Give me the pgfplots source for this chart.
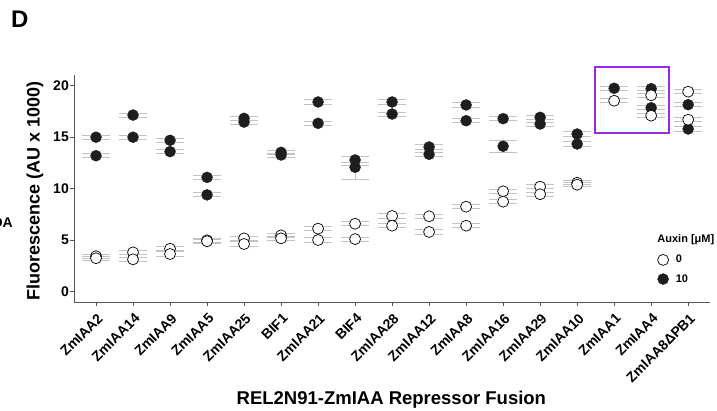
\documentclass[border=0pt]{standalone}
\usepackage{pgfplots}
\pgfplotsset{compat=1.18}
\usepackage{pgfplotstable}
\usepackage{fontspec}
\setmainfont{Liberation Sans}
\definecolor{capgray}{RGB}{195,195,195}
\definecolor{axgray}{RGB}{85,85,85}
\definecolor{boxpurple}{RGB}{155,40,240}
\definecolor{dotfill}{RGB}{30,30,30}

% Auxin 10 uM (filled)
\pgfplotstableread{
x y ep em
0 15.00 0.2 0.2
0 13.20 0.2 0.2
1 17.15 0.2 0.2
1 15.00 0.2 0.2
2 14.70 0.2 0.2
2 13.60 0.2 0.2
3 11.10 0.2 0.2
3 9.40 0.2 0.2
4 16.83 0.2 0.2
4 16.47 0.2 0.2
5 13.53 0.2 0.2
5 13.27 0.2 0.2
6 18.42 0.2 0.2
6 16.35 0.2 0.2
7 12.79 0.35 0.2
7 12.08 0.2 1.14
8 18.42 0.2 0.2
8 17.25 0.2 0.2
9 14.05 0.2 0.2
9 13.34 0.2 0.2
10 18.13 0.2 0.2
10 16.60 0.2 0.2
11 16.80 0.2 0.2
11 14.12 0.6 0.6
12 16.93 0.2 0.2
12 16.28 0.2 0.2
13 15.31 0.2 0.2
13 14.34 0.2 0.2
14 19.75 0.2 0.2
15 19.71 0.2 0.2
15 17.86 0.2 0.2
16 18.16 0.2 0.2
16 15.80 0.2 0.2
}\filled

% Auxin 0 uM (open)
\pgfplotstableread{
x y ep em
0 3.45 0.2 0.2
0 3.25 0.2 0.2
1 3.82 0.2 0.2
1 3.14 0.2 0.2
2 4.17 0.2 0.2
2 3.66 0.2 0.2
3 4.99 0.2 0.2
3 4.90 0.2 0.2
4 5.18 0.2 0.2
4 4.63 0.2 0.2
5 5.47 0.2 0.2
5 5.18 0.2 0.2
6 6.12 0.2 0.2
6 5.02 0.2 0.2
7 6.60 0.2 0.2
7 5.11 0.2 0.2
8 7.35 0.2 0.2
8 6.41 0.2 0.2
9 7.32 0.2 0.2
9 5.80 0.2 0.2
10 8.25 0.2 0.2
10 6.41 0.2 0.2
11 9.75 0.2 0.2
11 8.74 0.2 0.2
12 10.20 0.2 0.2
12 9.46 0.2 0.2
13 10.58 0.2 0.2
13 10.39 0.2 0.2
14 18.54 0.2 0.2
15 19.07 0.2 0.2
15 17.09 0.2 0.2
16 19.42 0.2 0.2
16 16.70 0.2 0.2
}\open

\begin{document}
\begin{tikzpicture}
\useasboundingbox (0pt,0pt) rectangle (717pt,411pt);
\node[anchor=base west, inner sep=0pt, font=\fontsize{24}{28}\selectfont\bfseries] at (11pt,383pt) {D};
\node[anchor=east, inner sep=0pt, font=\fontsize{14}{16}\selectfont\bfseries] at (13pt,188pt) {DA};
\begin{axis}[
  at={(74pt,109pt)}, anchor=south west,
  scale only axis, width=636pt, height=227pt,
  xmin=-0.595, xmax=16.59, ymin=-1, ymax=21.04,
  axis x line*=bottom, axis y line*=left,
  axis line style={axgray, line width=0.8pt},
  tick style={axgray, line width=0.8pt},
  tick align=outside, major tick length=4pt,
  xtick={0,...,16},
  xticklabels={ZmIAA2,ZmIAA14,ZmIAA9,ZmIAA5,ZmIAA25,BIF1,ZmIAA21,BIF4,ZmIAA28,ZmIAA12,ZmIAA8,ZmIAA16,ZmIAA29,ZmIAA10,ZmIAA1,ZmIAA4,ZmIAA8ΔPB1},
  xticklabel style={rotate=45, anchor=north east, inner sep=0pt, xshift=-4pt, yshift=-5pt, font=\fontsize{14}{16}\selectfont\bfseries},
  ytick={0,5,10,15,20},
  yticklabel style={font=\fontsize{14}{16}\selectfont\bfseries, inner sep=1pt},
  /pgf/number format/assume math mode=true,
  xlabel={REL2N91-ZmIAA Repressor Fusion},
  ylabel={Fluorescence (AU x 1000)},
  every axis x label/.style={at={(axis description cs:0.499,-0.432)}, anchor=center, font=\fontsize{18.5}{20}\selectfont\bfseries},
  every axis y label/.style={at={(axis description cs:-0.0613,0.489)}, rotate=90, anchor=center, font=\fontsize{18}{20}\selectfont\bfseries},
  clip=false,
  reverse legend,
  legend style={at={(axis description cs:0.917,0.211)}, anchor=north west, draw=none, fill=none,
    font=\fontsize{11}{13}\selectfont\bfseries, row sep=8pt, inner sep=0pt, nodes={inner sep=1pt}},
  legend cell align=left,
  legend image code/.code={\draw[#1] plot coordinates {(5.5pt,0pt)}; \path (0pt,0pt) (17pt,0pt);},
]
\addplot[only marks, mark=none, forget plot,
  error bars/.cd, y dir=both, y explicit,
  error bar style={capgray, line width=0.9pt},
  error mark=|, error mark options={capgray, mark size=14pt, line width=0.9pt}]
  table[x=x, y=y, y error plus=ep, y error minus=em] {\filled};
\addplot[only marks, mark=none, forget plot,
  error bars/.cd, y dir=both, y explicit,
  error bar style={capgray, line width=0.9pt},
  error mark=|, error mark options={capgray, mark size=14pt, line width=0.9pt}]
  table[x=x, y=y, y error plus=ep, y error minus=em] {\open};
\addplot[only marks, mark=*, mark size=5.5pt, mark options={fill=dotfill, draw=dotfill}]
  table[x=x, y=y] {\filled};
\addlegendentry{10}
\addplot[only marks, mark=*, mark size=5.5pt, mark options={fill=white, draw=black, line width=0.7pt}]
  table[x=x, y=y] {\open};
\addlegendentry{0}
\draw[boxpurple, line width=2pt] (axis cs:13.49,15.38) rectangle (axis cs:15.48,21.84);
\node[font=\fontsize{11}{13}\selectfont\bfseries, anchor=center] at (axis description cs:0.962,0.273) {Auxin [μM]};
\end{axis}
\end{tikzpicture}
\end{document}
